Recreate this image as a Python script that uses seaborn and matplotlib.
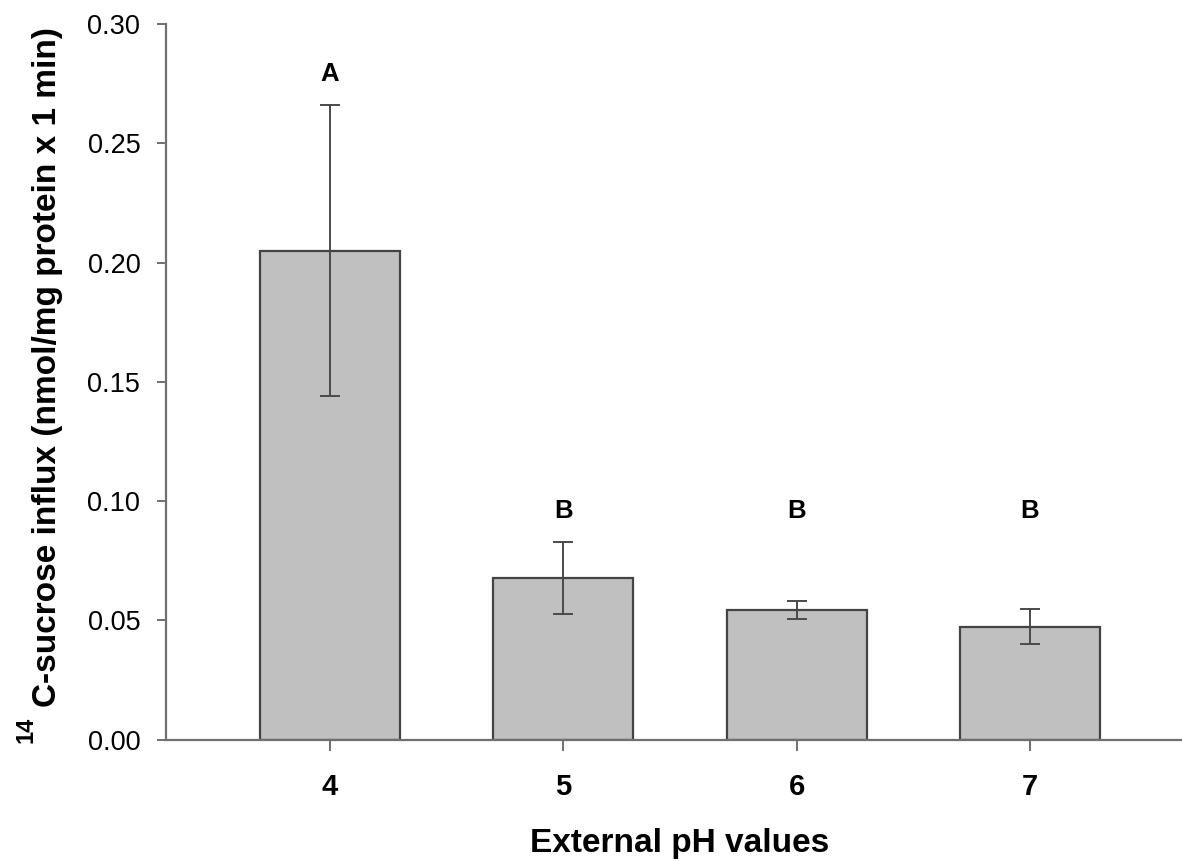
import matplotlib
matplotlib.use("Agg")
import matplotlib.pyplot as plt
import matplotlib.transforms as mtransforms
from matplotlib.ticker import FormatStrFormatter, MultipleLocator
import pandas as pd
import seaborn as sns

# External pH treatments and the measured 14C-sucrose influx (mean ± SE)
ph_values = ["4", "5", "6", "7"]
influx_mean = [0.205, 0.0676, 0.0543, 0.0473]
influx_se = [0.061, 0.0150, 0.0037, 0.0073]

# Significance groups and the heights at which their letters sit
group_letters = ["A", "B", "B", "B"]
letter_heights = [0.276, 0.093, 0.093, 0.093]

sns.set_theme(style="ticks")
plt.rcParams["font.family"] = ["Liberation Sans", "DejaVu Sans"]

W, H = 1182, 861
fig = plt.figure(figsize=(W / 100, H / 100), dpi=100)
fig.patch.set_facecolor("white")
ax = fig.add_axes([166 / W, 1 - 739.5 / H, 1016 / W, 715.5 / H])

df = pd.DataFrame({"pH": ph_values, "influx": influx_mean})
sns.barplot(
    data=df, x="pH", y="influx", order=ph_values,
    color="#c0c0c0", saturation=1, width=0.6,
    edgecolor="#444444", linewidth=1.6, errorbar=None, ax=ax,
)

positions = list(range(len(ph_values)))
ax.errorbar(
    positions, influx_mean, yerr=influx_se, fmt="none",
    ecolor="#4a4a4a", elinewidth=1.4, capsize=7, capthick=1.4, zorder=3,
)

for xpos, letter, ypos in zip(positions, group_letters, letter_heights):
    ax.text(xpos, ypos, letter, ha="center", va="baseline",
            fontsize=18.5, fontweight="bold", color="black")

ax.set_ylim(0, 0.30)
ax.set_xlim(-0.703, 3.652)
ax.yaxis.set_major_locator(MultipleLocator(0.05))
ax.yaxis.set_major_formatter(FormatStrFormatter("%.2f"))

sns.despine(ax=ax)
for side in ("left", "bottom"):
    ax.spines[side].set_color("#707070")
    ax.spines[side].set_linewidth(1.6)

ax.tick_params(axis="y", direction="out", length=6.5, width=1.4,
               color="#707070", pad=12, labelsize=19.5, labelcolor="black")
ax.tick_params(axis="x", direction="out", length=8, width=1.4,
               color="#707070", pad=16, labelsize=21, labelcolor="black")
for lbl in ax.get_xticklabels():
    lbl.set_fontweight("bold")

ax.set_xlabel("External pH values", fontsize=24, fontweight="bold",
              va="baseline", color="black")
ax.xaxis.set_label_coords(
    1.5, -0.1568,
    transform=mtransforms.blended_transform_factory(ax.transData, ax.transAxes),
)

ax.set_ylabel("C-sucrose influx (nmol/mg protein x 1 min)", fontsize=24,
              fontweight="bold", ha="left", va="baseline", color="black")
ax.yaxis.set_label_coords(-0.108, 0.0454)
ax.text(-0.131, 0.0314, "14", transform=ax.transAxes, rotation=90,
        rotation_mode="anchor", ha="right", va="baseline",
        fontsize=17, fontweight="bold", color="black")

fig.savefig("out.png", dpi=100, facecolor="white")
